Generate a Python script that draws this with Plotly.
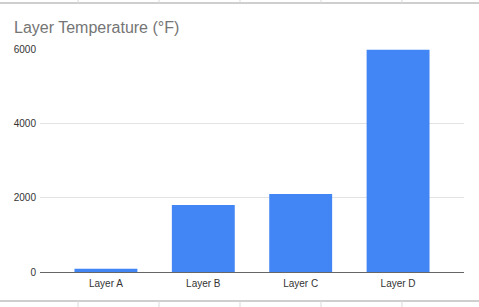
import plotly.graph_objects as go

categories = ["Layer A", "Layer B", "Layer C", "Layer D"]
temperatures = [85, 1800, 2100, 5980]
y_ticks = [0, 2000, 4000, 6000]

W, H = 479, 307
ML, MR, MT, MB = 40, 15, 49, 35
PW, PH = W - ML - MR, H - MT - MB

fig = go.Figure(go.Bar(
    x=categories, y=temperatures,
    marker=dict(color="#4285F4", line=dict(width=0)),
    width=0.646,
))

def px_to_paper_x(px):
    return (px - ML) / PW

def px_to_paper_y(py):
    return (H - MB - py) / PH

shapes = []
line_col = "#9e9e9e"
for yy in (3, 301):
    shapes.append(dict(type="line", xref="paper", yref="paper",
                       x0=px_to_paper_x(0), x1=px_to_paper_x(W),
                       y0=px_to_paper_y(yy), y1=px_to_paper_y(yy),
                       line=dict(color=line_col, width=1)))
for xx in (78, 159, 240, 321, 402):
    shapes.append(dict(type="line", xref="paper", yref="paper",
                       x0=px_to_paper_x(xx), x1=px_to_paper_x(xx),
                       y0=px_to_paper_y(0), y1=px_to_paper_y(3),
                       line=dict(color="#d9d9d9", width=1)))
    shapes.append(dict(type="line", xref="paper", yref="paper",
                       x0=px_to_paper_x(xx), x1=px_to_paper_x(xx),
                       y0=px_to_paper_y(301), y1=px_to_paper_y(H),
                       line=dict(color="#d9d9d9", width=1)))

fig.update_layout(
    width=W, height=H,
    margin=dict(l=ML, r=MR, t=MT, b=MB, pad=0),
    paper_bgcolor="white", plot_bgcolor="white",
    font=dict(family="Liberation Sans, Arial, sans-serif", color="#444", size=10),
    title=dict(text="Layer Temperature (°F)", x=14 / W, xanchor="left",
               y=1 - 27.5 / H, yanchor="middle",
               font=dict(size=16, color="#757575")),
    showlegend=False,
    bargap=0.354,
    shapes=shapes,
    xaxis=dict(range=[-0.677, 3.677], showline=True, linecolor="#666", linewidth=1,
               showgrid=False, ticks="", tickfont=dict(size=10, color="#333"),
               ticklabelstandoff=2, fixedrange=True),
    yaxis=dict(range=[0, 6000], tickvals=y_ticks, ticktext=[str(v) for v in y_ticks],
               showgrid=True, gridcolor="#e3e3e3", gridwidth=1, zeroline=False,
               showline=False, ticks="", tickfont=dict(size=10, color="#333"),
               ticklabelstandoff=3, fixedrange=True),
)

fig.write_html("out.html")
